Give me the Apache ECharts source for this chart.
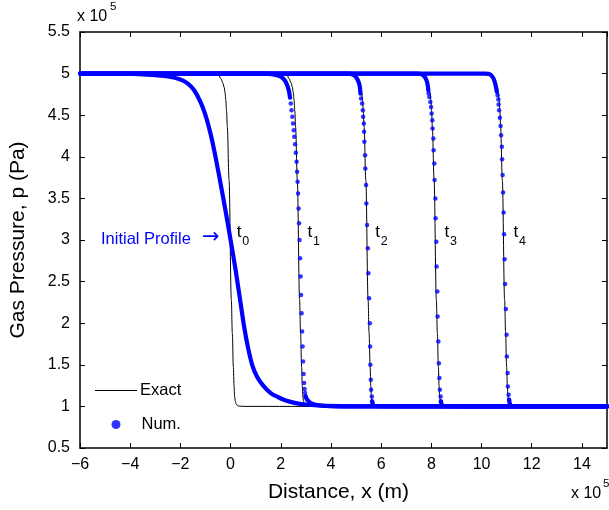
<!DOCTYPE html>
<html><head><meta charset="utf-8">
<script src="https://cdn.jsdelivr.net/npm/echarts@6/dist/echarts.min.js"></script>
<style>html,body{margin:0;padding:0;background:#fff}#c{width:609px;height:510px}</style>
</head><body><div id="c"></div>
<script>
const FONT = '"Liberation Sans", Arial, Helvetica, sans-serif';

// Axis ranges (x in 1e5 m, p in 1e5 Pa)
const xRange = [-6, 15, 2];
const yRange = [0.5, 5.5, 0.5];

// ---- Exact solution profiles (x, p) ----
const exactT0 = [[-6,5],[-1.5,5],[-0.59,5.0],[-0.47,4.98],[-0.39,4.94],[-0.31,4.89],[-0.26,4.84],[-0.22,4.77],[-0.19,4.68],[-0.16,4.55],[-0.13,4.36],[-0.06,3.72],[0.03,2.28],[0.07,1.88],[0.11,1.48],[0.14,1.24],[0.16,1.12],[0.19,1.06],[0.22,1.03],[0.27,1.01],[0.35,1.003],[0.53,1.0],[1.5,1],[15,1]];
const exactT1 = [[-6,5],[1.2,5],[2.13,5.0],[2.25,4.98],[2.33,4.94],[2.41,4.89],[2.46,4.84],[2.5,4.77],[2.53,4.68],[2.56,4.55],[2.59,4.36],[2.66,3.72],[2.75,2.28],[2.79,1.88],[2.83,1.48],[2.86,1.24],[2.88,1.12],[2.91,1.06],[2.94,1.03],[2.99,1.01],[3.07,1.003],[3.25,1.0],[4.2,1],[15,1]];
const exactT2 = [[-6,5],[3.9,5],[4.86,5],[4.98,4.98],[5.06,4.94],[5.14,4.89],[5.19,4.84],[5.23,4.77],[5.26,4.68],[5.29,4.55],[5.32,4.36],[5.39,3.72],[5.48,2.28],[5.52,1.88],[5.56,1.48],[5.59,1.24],[5.61,1.12],[5.64,1.06],[5.67,1.03],[5.72,1.01],[5.8,1.003],[5.98,1],[7,1],[15,1]];
const exactT3 = [[-6,5],[6.6,5],[7.58,5],[7.7,4.98],[7.78,4.94],[7.86,4.89],[7.91,4.84],[7.95,4.77],[7.98,4.68],[8.01,4.55],[8.04,4.36],[8.11,3.72],[8.2,2.28],[8.24,1.88],[8.28,1.48],[8.31,1.24],[8.33,1.12],[8.36,1.06],[8.39,1.03],[8.44,1.01],[8.52,1.003],[8.7,1],[9.7,1],[15,1]];
const exactT4 = [[-6,5],[9.3,5],[10.3,5],[10.42,4.98],[10.5,4.94],[10.58,4.89],[10.63,4.84],[10.67,4.77],[10.7,4.68],[10.73,4.55],[10.76,4.36],[10.83,3.72],[10.92,2.28],[10.96,1.88],[11.0,1.48],[11.03,1.24],[11.05,1.12],[11.08,1.06],[11.11,1.03],[11.16,1.01],[11.24,1.003],[11.42,1],[12.4,1],[15,1]];

// ---- Numerical solution ----
// initial profile (t0): densely sampled, reads as a continuous curve
const numT0 = [[-6,5],[-4,5],[-3.5,4.99],[-3.0,4.98],[-2.5,4.965],[-2.0,4.93],[-1.7,4.88],[-1.45,4.8],[-1.2,4.66],[-1.0,4.5],[-0.8,4.28],[-0.6,4.0],[-0.4,3.68],[-0.2,3.35],[0,3.0],[0.2,2.64],[0.4,2.24],[0.55,1.94],[0.7,1.7],[0.86,1.5],[1.05,1.36],[1.3,1.25],[1.6,1.16],[1.9,1.11],[2.2,1.07],[2.6,1.04],[3.1,1.02],[3.8,1.006],[5,1],[15,1]];
// t1
const numT1Top = [[-6,5],[1.4,5],[1.7,4.99],[1.95,4.97],[2.1,4.94],[2.2,4.9],[2.28,4.84],[2.34,4.77],[2.37,4.71]];
const numT1Dots = [[2.40,4.64],[2.43,4.56],[2.46,4.48],[2.49,4.40],[2.52,4.32],[2.54,4.24],[2.57,4.15],[2.6,4.05],[2.63,3.94],[2.65,3.82],[2.67,3.70],[2.69,3.56],[2.71,3.38],[2.73,3.20],[2.75,3.0],[2.77,2.78],[2.79,2.56],[2.81,2.34],[2.83,2.12],[2.85,1.90],[2.87,1.72],[2.89,1.54],[2.91,1.39],[2.93,1.28],[2.95,1.21],[2.97,1.16],[2.99,1.12]];
const numT1Bot = [[2.99,1.12],[3.05,1.08],[3.12,1.06],[3.19,1.04],[3.4,1.02],[3.8,1.005],[5,1],[15,1]];
// t2
const numT2Top = [[-6,5],[4.71,5],[4.91,4.98],[5.04,4.94],[5.14,4.86],[5.175,4.76]];
const numT2Dots = [[5.20,4.70],[5.24,4.64],[5.27,4.56],[5.28,4.48],[5.31,4.40],[5.32,4.30],[5.33,4.18],[5.36,4.02],[5.37,3.86],[5.40,3.66],[5.41,3.44],[5.44,3.18],[5.47,2.90],[5.49,2.60],[5.52,2.30],[5.55,2.00],[5.56,1.72],[5.57,1.50],[5.59,1.32],[5.60,1.20],[5.63,1.12],[5.64,1.06]];
const numT2Bot = [[5.64,1.06],[5.68,1.02],[5.75,1.005],[7,1],[15,1]];
// t3
const numT3Top = [[-6,5],[7.45,5],[7.62,4.99],[7.74,4.96],[7.83,4.9],[7.88,4.8]];
const numT3Dots = [[7.89,4.76],[7.92,4.72],[7.96,4.66],[7.99,4.60],[8.01,4.52],[8.04,4.44],[8.05,4.34],[8.08,4.22],[8.09,4.08],[8.12,3.92],[8.13,3.72],[8.16,3.50],[8.17,3.26],[8.20,2.98],[8.21,2.68],[8.24,2.38],[8.25,2.08],[8.28,1.78],[8.30,1.52],[8.32,1.34],[8.34,1.20],[8.37,1.12],[8.38,1.06]];
const numT3Bot = [[8.38,1.06],[8.42,1.02],[8.5,1.005],[9.7,1],[15,1]];
// t4
const numT4Top = [[-6,5],[10.15,5],[10.35,4.99],[10.48,4.94],[10.56,4.86],[10.61,4.78]];
const numT4Dots = [[10.64,4.74],[10.67,4.69],[10.68,4.63],[10.70,4.56],[10.73,4.47],[10.76,4.37],[10.78,4.26],[10.81,4.12],[10.82,3.97],[10.84,3.78],[10.86,3.57],[10.88,3.33],[10.90,3.07],[10.92,2.77],[10.94,2.47],[10.97,2.17],[11.00,1.86],[11.01,1.60],[11.04,1.40],[11.05,1.24],[11.08,1.14],[11.10,1.08]];
const numT4Bot = [[11.10,1.08],[11.13,1.03],[11.2,1.005],[12.4,1],[15,1]];

// Annotation anchors (data coords)
const timeLabels = ['0','1','2','3','4'];
const timeLabelX = [0.25, 3.07, 5.77, 8.52, 11.27];
const timeLabelP = 3.07;

const exactSets = [exactT0, exactT1, exactT2, exactT3, exactT4];
const numLines = [numT0, numT1Top, numT1Bot, numT2Top, numT2Bot, numT3Top, numT3Bot, numT4Top, numT4Bot];
const numDots = [numT1Dots, numT2Dots, numT3Dots, numT4Dots];

const BLUE = '#0000ff';
const series = [];
exactSets.forEach(d => series.push({
  type: 'line', name: 'Exact', data: d, symbol: 'none', smooth: 0.35, smoothMonotone: 'x',
  lineStyle: { color: '#000', width: 1 }, itemStyle: { color: '#000' }, z: 2, silent: true
}));
numDots.forEach(d => series.push({
  type: 'scatter', name: 'Num.', data: d, symbol: 'circle', symbolSize: 4.5,
  itemStyle: { color: BLUE }, z: 4, silent: true
}));
numLines.forEach(d => series.push({
  type: 'line', name: 'Num.', data: d, symbol: 'none', smooth: 0.3,
  lineStyle: { color: BLUE, width: 4.2, cap: 'round', join: 'round' }, itemStyle: { color: BLUE }, z: 3, silent: true
}));

const axisCommon = {
  type: 'value', splitLine: { show: false },
  axisLine: { show: true, onZero: false, lineStyle: { color: '#000', width: 1.5 } },
  axisTick: { show: true, inside: true, length: 5, lineStyle: { color: '#000', width: 1 } }
};
const labelStyle = { color: '#000', fontSize: 16, fontFamily: FONT };

const chart = echarts.init(document.getElementById('c'), null, { renderer: 'canvas' });
chart.setOption({
  animation: false,
  backgroundColor: '#fff',
  grid: { left: 79, right: 2, top: 32, bottom: 62 },
  xAxis: [
    Object.assign({}, axisCommon, {
      position: 'bottom', min: xRange[0], max: xRange[1], interval: xRange[2],
      axisLabel: Object.assign({ margin: 9, showMaxLabel: false, formatter: v => String(v).replace('-', '\u2212') }, labelStyle),
      name: 'Distance, x (m)', nameLocation: 'middle', nameGap: 34,
      nameTextStyle: { color: '#000', fontSize: 21, fontFamily: FONT, padding: [0, 10, 0, 0] }
    }),
    Object.assign({}, axisCommon, {
      position: 'top', min: xRange[0], max: xRange[1], interval: xRange[2], axisLabel: { show: false }
    })
  ],
  yAxis: [
    Object.assign({}, axisCommon, {
      position: 'left', min: yRange[0], max: yRange[1], interval: yRange[2],
      axisLabel: Object.assign({ margin: 10 }, labelStyle),
      name: 'Gas Pressure, p (Pa)', nameLocation: 'middle', nameGap: 51,
      nameTextStyle: { color: '#000', fontSize: 21, fontFamily: FONT }
    }),
    Object.assign({}, axisCommon, {
      position: 'right', min: yRange[0], max: yRange[1], interval: yRange[2], axisLabel: { show: false }
    })
  ],
  legend: [
    { data: [{ name: 'Exact', icon: 'rect', itemStyle: { color: '#000' } }], left: 90, top: 377, orient: 'vertical',
      itemWidth: 42, itemHeight: 1.2, selectedMode: false,
      textStyle: { color: '#000', fontSize: 16.5, fontFamily: FONT, padding: [0, 0, 0, -2] } },
    { data: [{ name: 'Num.', icon: 'circle' }], left: 106.5, top: 411, orient: 'vertical', itemWidth: 9, itemHeight: 9,
      selectedMode: false, textStyle: { color: '#000', fontSize: 16.5, fontFamily: FONT, padding: [0, 0, 0, 16] } }
  ],
  series: series
});

// Annotations
const g = [];
timeLabels.forEach((s, i) => {
  const pt = chart.convertToPixel({ xAxisIndex: 0, yAxisIndex: 0 }, [timeLabelX[i], timeLabelP]);
  g.push({ type: 'text', left: pt[0], top: pt[1] - 10, silent: true,
    style: { text: 't', fill: '#000', fontSize: 17, fontFamily: FONT } });
  g.push({ type: 'text', left: pt[0] + 5.5, top: pt[1] + 1, silent: true,
    style: { text: s, fill: '#000', fontSize: 12.5, fontFamily: FONT } });
});
const ip = chart.convertToPixel({ xAxisIndex: 0, yAxisIndex: 0 }, [0, 3]);
g.push({ type: 'text', left: 101, top: ip[1] - 9, silent: true,
  style: { text: 'Initial Profile', fill: BLUE, fontSize: 16.5, fontFamily: FONT } });
g.push({ type: 'text', left: 202, top: ip[1] - 13, silent: true,
  style: { text: '\u2192', fill: BLUE, fontSize: 21, fontFamily: '"DejaVu Sans", ' + FONT } });
// exponent labels
g.push({ type: 'text', left: 77, top: 9, silent: true, style: { text: 'x 10', fill: '#000', fontSize: 16, fontFamily: FONT } });
g.push({ type: 'text', left: 110, top: 1, silent: true, style: { text: '5', fill: '#000', fontSize: 11.5, fontFamily: FONT } });
g.push({ type: 'text', left: 571, top: 486, silent: true, style: { text: 'x 10', fill: '#000', fontSize: 16, fontFamily: FONT } });
g.push({ type: 'text', left: 603, top: 478, silent: true, style: { text: '5', fill: '#000', fontSize: 11.5, fontFamily: FONT } });
chart.setOption({ graphic: g });
</script>
</body></html>
